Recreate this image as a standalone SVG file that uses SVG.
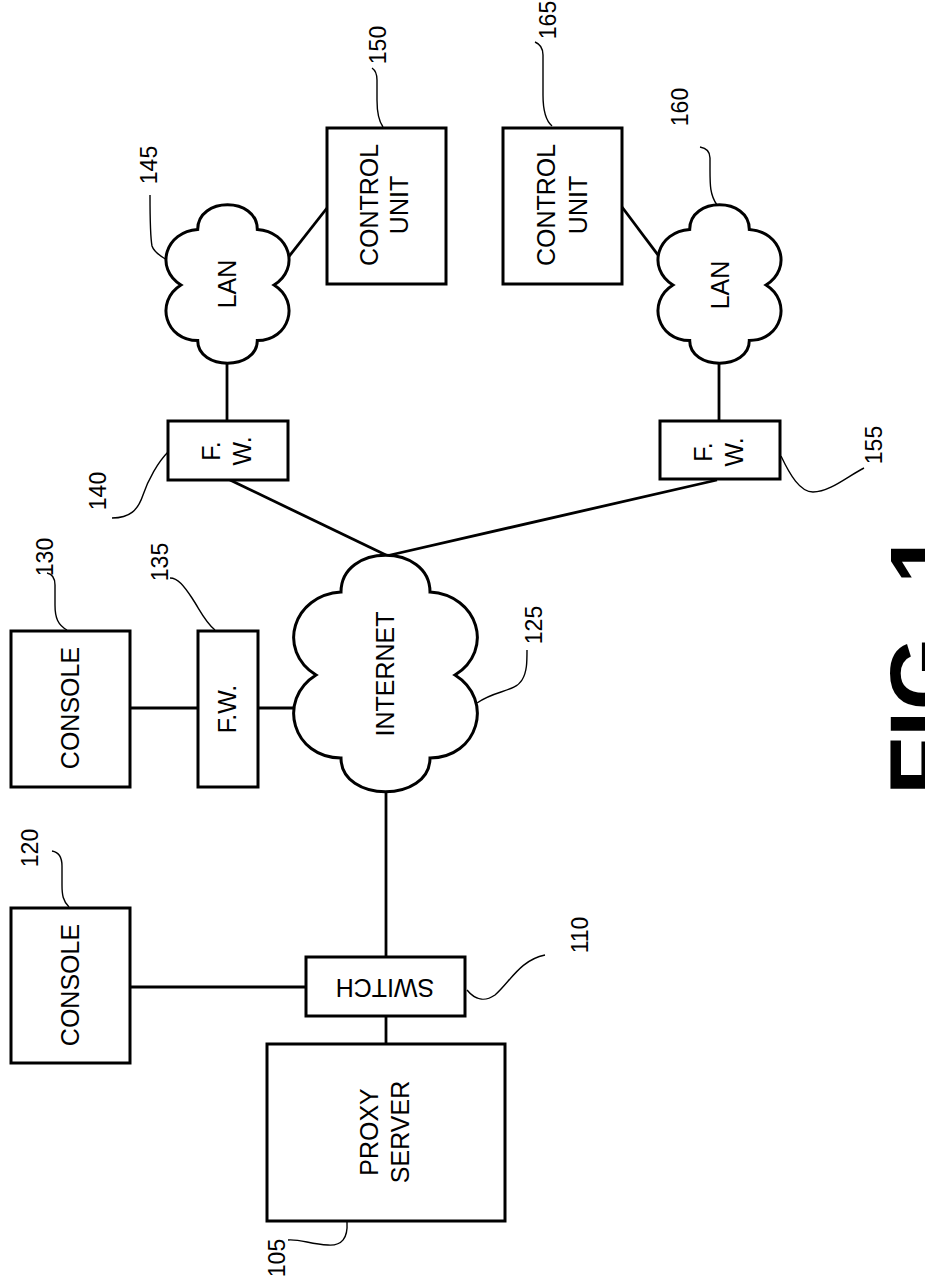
<svg xmlns="http://www.w3.org/2000/svg" xmlns:xlink="http://www.w3.org/1999/xlink" width="925" height="1283" viewBox="0 0 925 1283">
<style>
.box{fill:#fff;stroke:#000;stroke-width:3}
.ln{fill:none;stroke:#000;stroke-width:2.8}
.ld{fill:none;stroke:#000;stroke-width:1.4}
.cl{fill:#fff;stroke:#000;stroke-width:3;vector-effect:non-scaling-stroke}
.t{font-family:"Liberation Sans",Arial,sans-serif;font-size:25px;text-anchor:middle;fill:#000}
.n{font-family:"Liberation Sans",Arial,sans-serif;font-size:23px;text-anchor:middle;fill:#000}
.fig{font-family:"Liberation Sans",Arial,sans-serif;font-size:95px;font-weight:bold;fill:#000}
</style>
<defs>
<path id="cloud" class="cl" d="M-44.5,-81.5 C-44.5,-130.5 44.5,-130.5 44.5,-81.5 C92.5,-78.5 109.5,-23.5 69.5,1.5 C109.5,26.5 92.5,84.5 44.5,84.5 C44.5,129.5 -44.5,129.5 -44.5,84.5 C-92.5,84.5 -109.5,26.5 -69.5,1.5 C-109.5,-23.5 -92.5,-78.5 -44.5,-81.5 Z"/>
</defs>
<g id="connectors">
<line class="ln" x1="130" y1="987" x2="306" y2="987"/>
<line class="ln" x1="386" y1="792" x2="386" y2="957"/>
<line class="ln" x1="386" y1="1016" x2="386" y2="1044"/>
<line class="ln" x1="130" y1="708" x2="198" y2="708"/>
<line class="ln" x1="258" y1="708" x2="297" y2="708"/>
<line class="ln" x1="230" y1="480" x2="388" y2="556"/>
<line class="ln" x1="717" y1="480" x2="386" y2="556"/>
<line class="ln" x1="227" y1="363" x2="227" y2="421"/>
<line class="ln" x1="719" y1="363" x2="719" y2="421"/>
<line class="ln" x1="287" y1="259" x2="327" y2="208"/>
<line class="ln" x1="622" y1="207" x2="661" y2="259"/>
</g>
<g id="leaders">
<path class="ld" d="M347,1222 C348,1238 342,1246 328,1245 C310,1244 300,1239 288,1240"/>
<path class="ld" d="M69,907 C63,901 62,895 62,885 L62,866 C62,857 58,852 52,851"/>
<path class="ld" d="M67,630 C58,625 55,618 55,605 L55,585 C55,578 52,574 47,573"/>
<path class="ld" d="M215,630 C205,622 200,610 192,598 C184,586 178,578 170,578"/>
<path class="ld" d="M168,452 C158,462 148,480 143,495 C138,510 130,518 112,518"/>
<path class="ld" d="M167,260 C160,256 154,252 152,246 C150,235 150,215 150,195"/>
<path class="ld" d="M383,127 C378,120 377,110 377,100 L377,80 C377,74 375,70 372,68"/>
<path class="ld" d="M552,126 C545,120 543,110 543,95 L543,55 C543,48 540,44 535,42"/>
<path class="ld" d="M717,205 C710,195 710,185 710,170 L710,158 C710,151 706,148 700,147"/>
<path class="ld" d="M781,456 C790,475 800,492 813,492 C830,492 848,476 864,468"/>
<path class="ld" d="M477,703 C495,690 515,692 522,680 C527,672 527,662 527,650"/>
<path class="ld" d="M467,990 C475,1000 485,1002 495,995 C510,982 520,960 545,955"/>
</g>
<g id="n120"><rect class="box" x="11" y="908" width="119" height="155"/><text class="t" transform="translate(70,985) rotate(-90)" y="9">CONSOLE</text></g>
<g id="n130"><rect class="box" x="11" y="631" width="119" height="156"/><text class="t" transform="translate(70,708) rotate(-90)" y="9">CONSOLE</text></g>
<g id="n135"><rect class="box" x="198" y="631" width="60" height="156"/><text class="t" transform="translate(227,709) rotate(-90)" y="9">F.W.</text></g>
<g id="n125"><use xlink:href="#cloud" transform="translate(385.5,673.5)"/><text class="t" transform="translate(385,674) rotate(-90)" y="9">INTERNET</text></g>
<g id="n110"><rect class="box" x="306" y="957" width="159" height="59"/><text class="t" transform="translate(385,988) rotate(180)" y="9">SWITCH</text></g>
<g id="n105"><rect class="box" x="267" y="1044" width="238" height="177"/><text class="t" transform="translate(385,1132) rotate(-90)"><tspan x="0" y="-7">PROXY</tspan><tspan x="0" y="24">SERVER</tspan></text></g>
<g id="n140"><rect class="box" x="168" y="421" width="120" height="59"/><text class="t" transform="translate(227,451) rotate(-90)"><tspan x="0" y="-7">F.</tspan><tspan x="0" y="24">W.</tspan></text></g>
<g id="n155"><rect class="box" x="660" y="421" width="120" height="58"/><text class="t" transform="translate(719,452) rotate(-90)"><tspan x="0" y="-7">F.</tspan><tspan x="0" y="24">W.</tspan></text></g>
<g id="n145"><use xlink:href="#cloud" transform="translate(227.5,284) scale(0.67)"/><text class="t" transform="translate(227,284) rotate(-90)" y="9">LAN</text></g>
<g id="n160"><use xlink:href="#cloud" transform="translate(719.5,284) scale(0.67)"/><text class="t" transform="translate(720,285) rotate(-90)" y="9">LAN</text></g>
<g id="n150"><rect class="box" x="327" y="128" width="119" height="156"/><text class="t" transform="translate(384,205) rotate(-90)"><tspan x="0" y="-6">CONTROL</tspan><tspan x="0" y="24">UNIT</tspan></text></g>
<g id="n165"><rect class="box" x="503" y="128" width="119" height="156"/><text class="t" transform="translate(562,205) rotate(-90)"><tspan x="0" y="-7">CONTROL</tspan><tspan x="0" y="25">UNIT</tspan></text></g>
<g id="labels">
<text class="n" transform="translate(277,1258) rotate(-90)" y="8">105</text>
<text class="n" transform="translate(580,935) rotate(-90)" y="8">110</text>
<text class="n" transform="translate(30,848) rotate(-90)" y="8">120</text>
<text class="n" transform="translate(534,625) rotate(-90)" y="8">125</text>
<text class="n" transform="translate(45,557) rotate(-90)" y="8">130</text>
<text class="n" transform="translate(160,562) rotate(-90)" y="8">135</text>
<text class="n" transform="translate(98,491) rotate(-90)" y="8">140</text>
<text class="n" transform="translate(149,165) rotate(-90)" y="8">145</text>
<text class="n" transform="translate(378,45) rotate(-90)" y="8">150</text>
<text class="n" transform="translate(874,445) rotate(-90)" y="8">155</text>
<text class="n" transform="translate(680,107) rotate(-90)" y="8">160</text>
<text class="n" transform="translate(548,20) rotate(-90)" y="8">165</text>
</g>
<text class="fig" transform="translate(956,795) rotate(-90)">FIG. 1</text>
</svg>
